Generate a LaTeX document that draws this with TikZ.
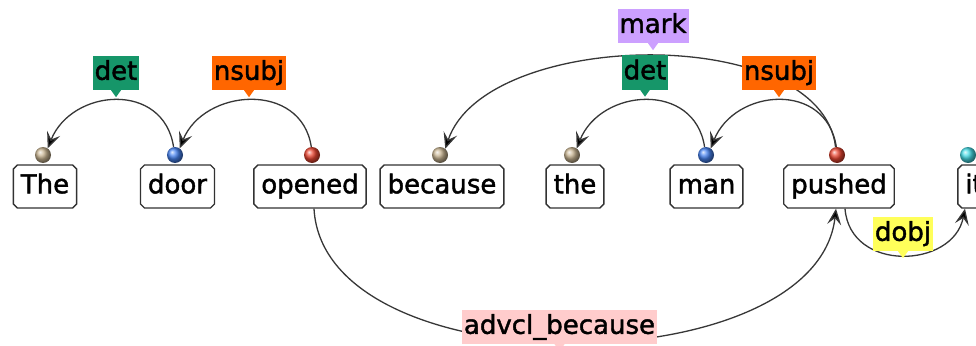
\documentclass[tikz,border=0pt]{standalone}
\usepackage{fontspec}
\setmainfont{DejaVu Sans}
\newfontfamily\wfont[FakeBold=1.6]{DejaVu Sans}
\usetikzlibrary{shapes.misc,arrows.meta,calc}
\definecolor{detc}{RGB}{22,150,105}
\definecolor{nsubjc}{RGB}{255,102,0}
\definecolor{markc}{RGB}{204,160,255}
\definecolor{dobjc}{RGB}{255,255,90}
\definecolor{advc}{RGB}{255,204,204}
\definecolor{boxc}{RGB}{50,50,50}
\definecolor{arcc}{RGB}{55,55,55}
\definecolor{brn}{RGB}{200,180,145}
\definecolor{blu}{RGB}{70,130,240}
\definecolor{rd}{RGB}{235,70,50}
\definecolor{tl}{RGB}{70,220,230}
\newcommand{\lblptr}[2]{\fill[#2] ([xshift=-5pt]#1.south) -- ([xshift=5pt]#1.south) -- ([yshift=-7pt]#1.south) -- cycle;}
\begin{document}
\begin{tikzpicture}[x=1pt,y=-1pt,
  word/.style={chamfered rectangle, chamfered rectangle xsep=2pt, chamfered rectangle ysep=2pt,
    draw=boxc, line width=1.4pt, fill=white, font=\wfont\fontsize{26}{30}\selectfont,
    text height=19.8pt, text depth=6.2pt, inner xsep=5.5pt, inner ysep=6.5pt},
  lab/.style={font=\wfont\fontsize{26}{30}\selectfont, text height=19.8pt, text depth=6.2pt,
    inner xsep=2pt, inner ysep=4pt},
  ballnode/.style={circle, minimum size=16pt, inner sep=0pt, shade, ball color=#1},
  deparc/.style={draw=arcc, line width=1.3pt, -{Stealth[length=16pt,width=14pt,inset=6.5pt,fill=black]}},
]
\clip (0,0) rectangle (976,345);
\useasboundingbox (0,0) rectangle (976,345);
\fill[white] (0,0) rectangle (976,345);
% words
\node[word] (w1) at (45,186.5) {The};
\node[word] (w2) at (177.5,186.5) {door};
\node[word] (w3) at (310,186.5) {opened};
\node[word] (w4) at (442,186.5) {because};
\node[word] (w5) at (575,186.5) {the};
\node[word] (w6) at (706.5,186.5) {man};
\node[word] (w7) at (839,186.5) {pushed};
\node[word] (w8) at (974,186.5) {it};
% balls
\node[ballnode=brn] (b1) at (43,155) {};
\node[ballnode=blu] (b2) at (175,155) {};
\node[ballnode=rd] (b3) at (312,155) {};
\node[ballnode=brn] (b4) at (440,155) {};
\node[ballnode=brn] (b5) at (572,155) {};
\node[ballnode=blu] (b6) at (706,155) {};
\node[ballnode=rd] (b7) at (837,155) {};
\node[ballnode=tl] (b8) at (968,155) {};
% arcs above
\draw[deparc] (b2.100) .. controls +(-10,-66) and +(24,-60) .. (b1.55);
\draw[deparc] (b3.95) .. controls +(-10,-66) and +(24,-60) .. (b2.55);
\draw[deparc] (b7.100) .. controls +(-15,-125) and +(40,-120) .. (b4.50);
\draw[deparc] (b6.100) .. controls +(-10,-66) and +(24,-60) .. (b5.55);
\draw[deparc] (b7.95) .. controls +(-10,-66) and +(24,-60) .. (b6.55);
% arcs below
\draw[deparc] ([xshift=4pt]w3.south) .. controls +(10,180) and +(-20,176) .. ([xshift=-3pt]w7.south);
\draw[deparc] ([xshift=6pt]w7.south) .. controls +(5,64) and +(-12,60) .. ([xshift=-9pt]w8.south);
% labels
\node[lab, fill=detc] (l1) at (116,73) {det};
\lblptr{l1}{detc}
\node[lab, fill=nsubjc] (l2) at (249,73) {nsubj};
\lblptr{l2}{nsubjc}
\node[lab, fill=markc] (l3) at (653,26) {mark};
\lblptr{l3}{markc}
\node[lab, fill=detc] (l4) at (645,72.5) {det};
\lblptr{l4}{detc}
\node[lab, fill=nsubjc] (l5) at (779,73) {nsubj};
\lblptr{l5}{nsubjc}
\node[lab, fill=dobjc] (l6) at (903,234) {dobj};
\lblptr{l6}{dobjc}
\node[lab, fill=advc] (l7) at (559.5,327) {advcl\_because};
\lblptr{l7}{advc}
\end{tikzpicture}
\end{document}
